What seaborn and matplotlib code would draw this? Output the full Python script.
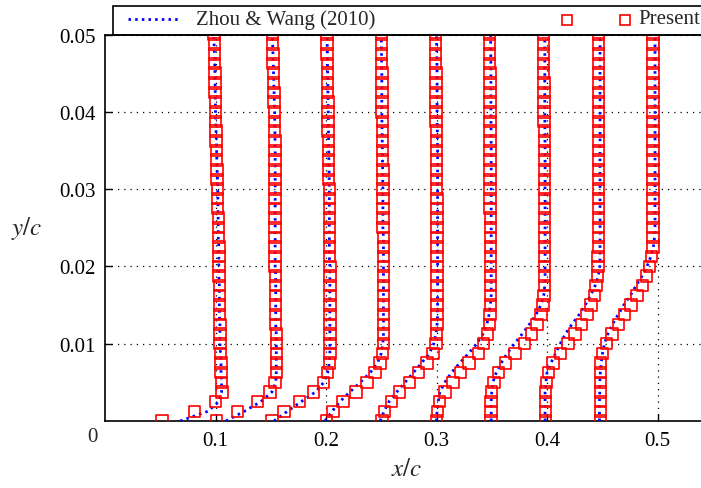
import numpy as np
import pandas as pd
import matplotlib
matplotlib.use("Agg")
import matplotlib.pyplot as plt
import seaborn as sns
from matplotlib.lines import Line2D
from matplotlib.patches import Rectangle

# ---------------- data ----------------
stations = [0.10, 0.15, 0.20, 0.25, 0.30, 0.35, 0.40, 0.45, 0.50]

# wall-normal positions of the present results
y_present = [0.0, 0.00125, 0.0025, 0.00375, 0.005, 0.00625, 0.0075, 0.00875, 0.01, 0.01125,
             0.0125, 0.01375, 0.015, 0.01625, 0.0175, 0.01875, 0.02, 0.02125, 0.0225, 0.02375,
             0.025, 0.02625, 0.0275, 0.02875, 0.03, 0.03125, 0.0325, 0.03375, 0.035, 0.03625,
             0.0375, 0.03875, 0.04, 0.04125, 0.0425, 0.04375, 0.045, 0.04625, 0.0475, 0.04875, 0.05]

# normalised streamwise velocity (present)
u_present_010 = [0.03, 0.62, 1.00, 1.12, 1.11, 1.10, 1.10, 1.09, 1.08, 1.08,
                 1.08, 1.07, 1.07, 1.07, 1.07, 1.06, 1.06, 1.06, 1.06, 1.05,
                 1.05, 1.05, 1.04, 1.04, 1.04, 1.03, 1.03, 1.02, 1.02, 1.01,
                 1.01, 1.00, 1.00, 1.00, 0.99, 0.99, 0.99, 0.98, 0.98, 0.98, 0.97]
u_present_015 = [0.02, 0.40, 0.76, 0.99, 1.08, 1.10, 1.10, 1.10, 1.10, 1.10,
                 1.09, 1.09, 1.09, 1.09, 1.09, 1.09, 1.08, 1.08, 1.08, 1.08,
                 1.08, 1.08, 1.08, 1.08, 1.08, 1.08, 1.08, 1.08, 1.08, 1.08,
                 1.07, 1.07, 1.07, 1.06, 1.06, 1.05, 1.05, 1.04, 1.04, 1.03, 1.03]
u_present_020 = [0.02, 0.24, 0.52, 0.77, 0.95, 1.03, 1.06, 1.07, 1.07, 1.07,
                 1.07, 1.07, 1.07, 1.07, 1.07, 1.07, 1.07, 1.06, 1.06, 1.06,
                 1.06, 1.06, 1.06, 1.06, 1.06, 1.05, 1.05, 1.05, 1.05, 1.05,
                 1.04, 1.04, 1.04, 1.04, 1.03, 1.03, 1.03, 1.03, 1.02, 1.02, 1.02]
u_present_025 = [0.01, 0.13, 0.31, 0.54, 0.74, 0.89, 0.98, 1.02, 1.04, 1.04,
                 1.04, 1.04, 1.04, 1.04, 1.04, 1.04, 1.04, 1.04, 1.04, 1.04,
                 1.03, 1.03, 1.03, 1.03, 1.03, 1.03, 1.03, 1.02, 1.02, 1.02,
                 1.02, 1.02, 1.01, 1.01, 1.01, 1.01, 1.01, 1.00, 1.00, 1.00, 1.00]
u_present_030 = [0.01, 0.06, 0.19, 0.33, 0.51, 0.67, 0.83, 0.94, 0.99, 1.00,
                 1.01, 1.01, 1.01, 1.01, 1.01, 1.01, 1.01, 1.01, 1.01, 1.01,
                 1.01, 1.01, 1.01, 1.01, 1.00, 1.00, 1.00, 1.00, 1.00, 1.00,
                 1.00, 0.99, 0.99, 0.99, 0.99, 0.99, 0.99, 0.98, 0.98, 0.98, 0.98]
u_present_035 = [0.00, 0.02, 0.05, 0.15, 0.30, 0.43, 0.59, 0.76, 0.85, 0.92,
                 0.955, 0.97, 0.975, 0.975, 0.975, 0.975, 0.975, 0.975, 0.975, 0.975,
                 0.975, 0.975, 0.97, 0.97, 0.97, 0.97, 0.97, 0.97, 0.97, 0.97,
                 0.97, 0.97, 0.965, 0.965, 0.965, 0.965, 0.965, 0.96, 0.96, 0.96, 0.96]
u_present_040 = [-0.01, -0.01, -0.01, 0.00, 0.04, 0.12, 0.25, 0.42, 0.59, 0.72,
                 0.82, 0.89, 0.93, 0.945, 0.95, 0.95, 0.95, 0.95, 0.95, 0.95,
                 0.95, 0.95, 0.95, 0.95, 0.95, 0.95, 0.95, 0.95, 0.95, 0.95,
                 0.95, 0.945, 0.945, 0.945, 0.945, 0.945, 0.94, 0.94, 0.94, 0.94, 0.94]
u_present_045 = [-0.03, -0.03, -0.03, -0.03, -0.01, 0.03, 0.11, 0.24, 0.38, 0.51,
                 0.62, 0.72, 0.80, 0.86, 0.89, 0.91, 0.92, 0.925, 0.93, 0.93,
                 0.93, 0.93, 0.93, 0.93, 0.93, 0.93, 0.93, 0.93, 0.93, 0.93,
                 0.93, 0.93, 0.93, 0.93, 0.93, 0.93, 0.93, 0.93, 0.93, 0.93, 0.93]
u_present_050 = [-0.03, -0.03, -0.03, -0.03, -0.03, -0.03, -0.03, 0.00, 0.08, 0.18,
                 0.29, 0.40, 0.52, 0.63, 0.73, 0.80, 0.86, 0.895, 0.915, 0.92,
                 0.92, 0.92, 0.92, 0.92, 0.92, 0.92, 0.92, 0.92, 0.92, 0.92,
                 0.92, 0.92, 0.92, 0.92, 0.92, 0.92, 0.92, 0.92, 0.92, 0.92, 0.92]

# reference data: Zhou & Wang (2010)
y_ref = [0.0, 0.00125, 0.0025, 0.00375, 0.005, 0.00625, 0.0075, 0.00875, 0.01, 0.01125,
         0.0125, 0.01375, 0.015, 0.01625, 0.0175, 0.01875, 0.02, 0.02125, 0.0225, 0.02375,
         0.025, 0.03, 0.035, 0.04, 0.045, 0.05]
u_ref_010 = [0.36, 0.86, 1.06, 1.11, 1.11, 1.10, 1.10, 1.09, 1.08, 1.08,
             1.08, 1.07, 1.07, 1.07, 1.07, 1.06, 1.06, 1.06, 1.06, 1.05,
             1.05, 1.04, 1.02, 1.00, 0.99, 0.97]
u_ref_015 = [0.19, 0.52, 0.82, 1.02, 1.09, 1.10, 1.10, 1.10, 1.10, 1.10,
             1.09, 1.09, 1.09, 1.09, 1.09, 1.09, 1.08, 1.08, 1.08, 1.08,
             1.08, 1.08, 1.08, 1.07, 1.05, 1.03]
u_ref_020 = [0.06, 0.30, 0.55, 0.81, 0.96, 1.03, 1.06, 1.07, 1.07, 1.07,
             1.07, 1.07, 1.07, 1.07, 1.07, 1.07, 1.07, 1.06, 1.06, 1.06,
             1.06, 1.06, 1.05, 1.04, 1.03, 1.02]
u_ref_025 = [-0.02, 0.11, 0.25, 0.43, 0.62, 0.80, 0.93, 1.00, 1.03, 1.04,
             1.04, 1.04, 1.04, 1.04, 1.04, 1.04, 1.04, 1.04, 1.04, 1.04,
             1.03, 1.03, 1.02, 1.01, 1.01, 1.00]
u_ref_030 = [-0.02, 0.05, 0.14, 0.28, 0.43, 0.58, 0.73, 0.87, 0.95, 0.99,
             1.01, 1.02, 1.02, 1.02, 1.02, 1.02, 1.02, 1.02, 1.02, 1.02,
             1.02, 1.02, 1.02, 1.01, 1.01, 1.00]
u_ref_035 = [0.00, 0.01, 0.03, 0.06, 0.15, 0.27, 0.42, 0.58, 0.73, 0.84,
             0.91, 0.95, 0.975, 0.99, 0.99, 0.99, 0.99, 0.99, 0.99, 0.99,
             0.99, 0.99, 0.99, 0.985, 0.985, 0.98]
u_ref_040 = [-0.01, -0.01, -0.01, 0.00, 0.02, 0.08, 0.17, 0.28, 0.41, 0.55,
             0.68, 0.80, 0.89, 0.94, 0.96, 0.965, 0.965, 0.965, 0.965, 0.965,
             0.965, 0.965, 0.965, 0.96, 0.96, 0.96]
u_ref_045 = [-0.035, -0.035, -0.035, -0.035, -0.02, 0.00, 0.07, 0.155, 0.24, 0.33,
             0.45, 0.58, 0.69, 0.79, 0.87, 0.93, 0.955, 0.96, 0.96, 0.96,
             0.96, 0.96, 0.96, 0.96, 0.96, 0.96]
u_ref_050 = [-0.05, -0.05, -0.05, -0.045, -0.045, -0.035, -0.02, 0.005, 0.04, 0.10,
             0.185, 0.285, 0.39, 0.51, 0.61, 0.72, 0.81, 0.877, 0.925, 0.946,
             0.955, 0.955, 0.955, 0.955, 0.955, 0.955]

x_ticks = [0.1, 0.2, 0.3, 0.4, 0.5]
x_tick_labels = ["0.1", "0.2", "0.3", "0.4", "0.5"]
y_ticks = [0.01, 0.02, 0.03, 0.04, 0.05]
y_tick_labels = ["0.01", "0.02", "0.03", "0.04", "0.05"]
legend_labels = ["Zhou & Wang (2010)", "Present"]

present_profiles = [u_present_010, u_present_015, u_present_020, u_present_025, u_present_030,
                    u_present_035, u_present_040, u_present_045, u_present_050]
ref_profiles = [u_ref_010, u_ref_015, u_ref_020, u_ref_025, u_ref_030,
                u_ref_035, u_ref_040, u_ref_045, u_ref_050]

# profile scale: one unit of u spans 0.05 in x/c, free stream sits on the station line
SCALE = 0.05

rows_p, rows_r = [], []
for st, up, ur in zip(stations, present_profiles, ref_profiles):
    for y, u in zip(y_present, up):
        rows_p.append({"station": st, "y": y, "x": st + SCALE * (u - 1.0)})
    for y, u in zip(y_ref, ur):
        rows_r.append({"station": st, "y": y, "x": st + SCALE * (u - 1.0)})
df_p = pd.DataFrame(rows_p)
df_r = pd.DataFrame(rows_r)

# ---------------- style ----------------
sns.set_style("ticks")
plt.rcParams["font.family"] = ["Liberation Serif", "DejaVu Serif"]
plt.rcParams["mathtext.fontset"] = "stix"

W, H = 701, 489
fig = plt.figure(figsize=(W / 100, H / 100), dpi=100)
x_left, x_right = 105, 701.7
y_top, y_bot = 35.5, 422
ax = fig.add_axes([x_left / W, 1 - y_bot / H, (x_right - x_left) / W, (y_bot - y_top) / H])

LS = (0, (0.9, 1.5))
sns.lineplot(data=df_r, x="x", y="y", units="station", estimator=None, sort=False,
             color="#0000ff", linewidth=2.0, linestyle=LS, ax=ax, zorder=3,
             legend=False)
sns.scatterplot(data=df_p, x="x", y="y", marker="s", s=68, color="red", ax=ax,
                zorder=4, legend=False)
pts = ax.collections[-1]
pts.set_facecolor("none")
pts.set_edgecolor("#ff0000")
pts.set_linewidth(1.2)

ax.set_xlim(0, 0.54)
ax.set_ylim(0, 0.05)
ax.set_xticks(x_ticks)
ax.set_xticklabels(x_tick_labels)
ax.set_yticks(y_ticks)
ax.set_yticklabels(y_tick_labels)
ax.grid(True, color="black", linestyle=(0, (1, 4)), linewidth=0.9, zorder=1)
ax.set_axisbelow(True)
ax.tick_params(direction="in", length=5, width=1.0, labelsize=15, pad=7,
               top=False, right=False, colors="black")
for side in ["left", "bottom", "top"]:
    ax.spines[side].set_linewidth(1.2)
    ax.spines[side].set_color("black")
ax.spines["right"].set_visible(False)

ax.set_xlabel("")
ax.set_ylabel("")
fig.text(407 / W, 1 - 470 / H, r"$x/c$", fontsize=18, ha="center", va="center")
fig.text(27 / W, 1 - 229 / H, r"$y/c$", fontsize=18, ha="center", va="center")
fig.text(92 / W, 1 - 438 / H, "0", fontsize=15, ha="center", va="center")

# legend box (key)
fig.add_artist(Rectangle((113 / W, 1 - 35.5 / H), (720 - 113) / W, 28.5 / H,
                         transform=fig.transFigure, fill=False, edgecolor="black",
                         linewidth=1.2, clip_on=False))
fig.add_artist(Line2D([128 / W, 180 / W], [1 - 20 / H, 1 - 20 / H], transform=fig.transFigure,
                      color="#0000ff", linewidth=2.0, linestyle=LS))
fig.text(196 / W, 1 - 20 / H, legend_labels[0], fontsize=15, ha="left", va="center")
for mx in (567, 625):
    fig.add_artist(Line2D([mx / W], [1 - 21 / H], transform=fig.transFigure, marker="s",
                          markersize=7.5, markerfacecolor="none", markeredgecolor="#ff0000",
                          markeredgewidth=1.2, linestyle="none"))
fig.text(638 / W, 1 - 20 / H, legend_labels[1], fontsize=15, ha="left", va="center")

fig.savefig("out.png", dpi=100)
